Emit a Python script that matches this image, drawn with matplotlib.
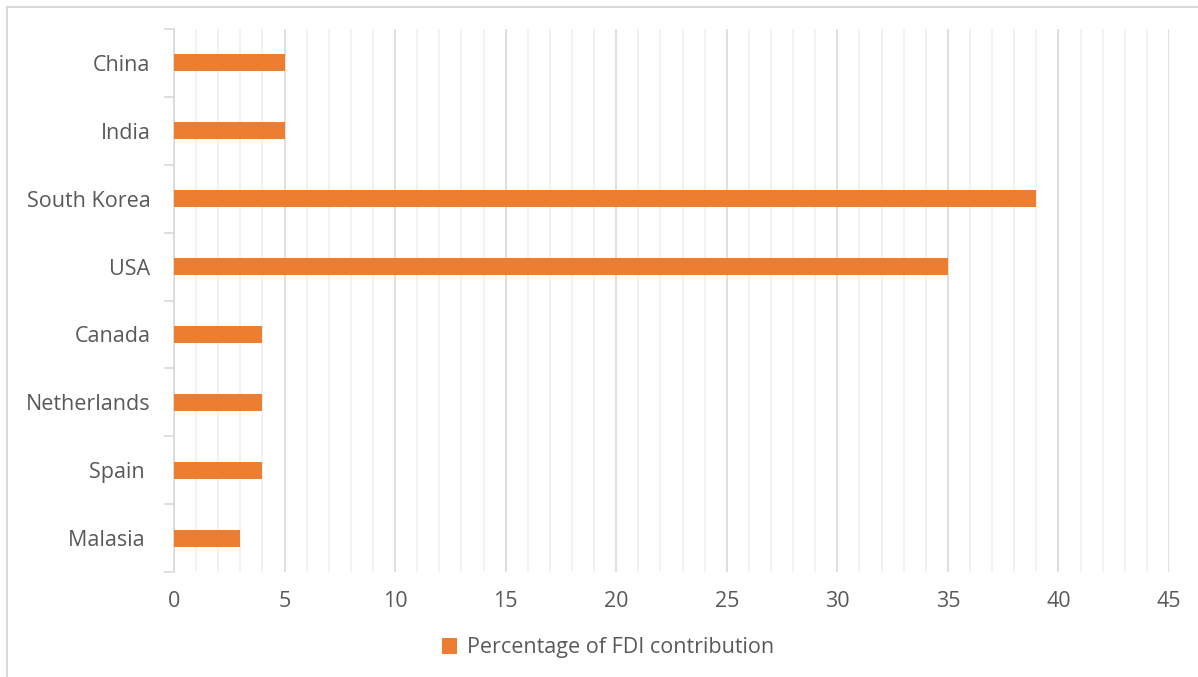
import matplotlib
matplotlib.use("Agg")
import matplotlib.pyplot as plt
from matplotlib.patches import Rectangle
import numpy as np

countries = ["China", "India", "South Korea", "USA", "Canada", "Netherlands", "Spain ", "Malasia "]
values = [5, 5, 39, 35, 4, 4, 4, 3]
xticks = [0, 5, 10, 15, 20, 25, 30, 35, 40, 45]
series_name = "Percentage of FDI contribution"

plt.rcParams['font.family'] = ['Open Sans', 'DejaVu Sans']
text_color = "#595959"
bar_color = "#ED7D31"
fs = 15.5

fig = plt.figure(figsize=(11.98, 6.77), dpi=100)
fig.patch.set_facecolor("white")
fig.patches.append(Rectangle((7/1198, -0.1), 1.2, 1 - 7/677 + 0.1, transform=fig.transFigure,
                             fill=False, edgecolor="#d9d9d9", linewidth=1.5))

ax = fig.add_axes([174/1198, 1 - 572/677, (1169 - 174)/1198, (572 - 29)/677])
n = len(countries)
ypos = np.arange(n)[::-1]
ax.barh(ypos, values, height=0.25, color=bar_color, zorder=3, label=series_name)

ax.set_xlim(0, 45)
ax.set_ylim(-0.5, n - 0.5)
ax.set_xticks(xticks)
ax.set_xticks(np.arange(0, 46, 1), minor=True)
ax.set_xticklabels([str(t) for t in xticks])
ax.set_yticks(ypos)
ax.set_yticklabels(countries)
ax.set_yticks(np.arange(-0.5, n, 1), minor=True)

ax.grid(axis="x", which="major", color="#d9d9d9", linewidth=1.2, zorder=0)
ax.grid(axis="x", which="minor", color="#f0f0f0", linewidth=1.2, zorder=0)
ax.set_axisbelow(True)

for s in ["top", "right", "bottom"]:
    ax.spines[s].set_visible(False)
ax.spines["left"].set_color("#d9d9d9")
ax.spines["left"].set_linewidth(1.2)

ax.tick_params(axis="x", which="both", length=0, pad=14, labelsize=fs, labelcolor=text_color)
ax.tick_params(axis="y", which="major", length=0, pad=17, labelsize=fs, labelcolor=text_color)
ax.tick_params(axis="y", which="minor", length=7, width=1.2, color="#d9d9d9")

leg = fig.legend(loc="center", bbox_to_anchor=(608/1198, 1 - 648/677), frameon=False,
                 fontsize=fs, handlelength=0.7, handleheight=0.7, handletextpad=0.45)
for t in leg.get_texts():
    t.set_color(text_color)

fig.savefig("out.png", dpi=100, facecolor="white")
